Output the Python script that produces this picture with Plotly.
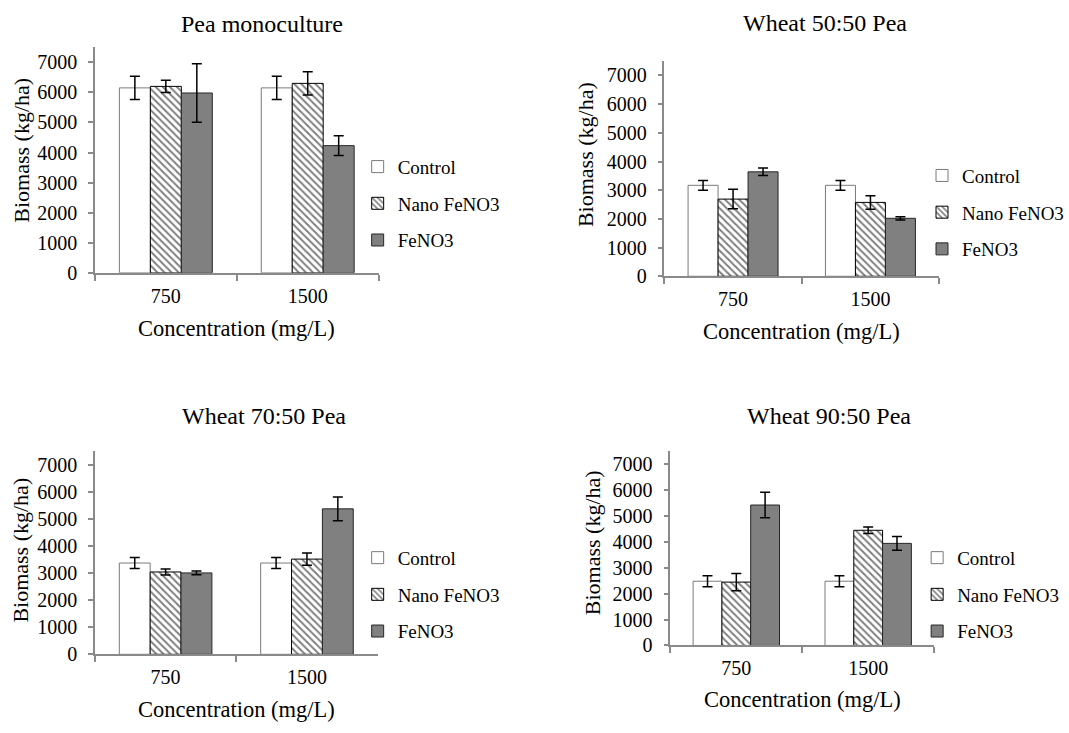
import plotly.graph_objects as go

W, H = 1069, 733

categories = ["750", "1500"]
series_names = ["Control", "Nano FeNO3", "FeNO3"]
panel_titles = ["Pea monoculture", "Wheat 50:50 Pea", "Wheat 70:50 Pea", "Wheat 90:50 Pea"]
y_ticks = [0, 1000, 2000, 3000, 4000, 5000, 6000, 7000]
x_title = "Concentration (mg/L)"
y_title = "Biomass (kg/ha)"

# Pea monoculture
pm_control = [6150, 6150]
pm_control_err = [390, 390]
pm_nano = [6200, 6300]
pm_nano_err = [200, 390]
pm_fe = [5980, 4230]
pm_fe_err = [970, 330]

# Wheat 50:50 Pea
w50_control = [3170, 3170]
w50_control_err = [170, 170]
w50_nano = [2690, 2575]
w50_nano_err = [340, 235]
w50_fe = [3640, 2020]
w50_fe_err = [130, 55]

# Wheat 70:50 Pea
w70_control = [3370, 3370]
w70_control_err = [200, 200]
w70_nano = [3040, 3515]
w70_nano_err = [110, 225]
w70_fe = [3005, 5370]
w70_fe_err = [70, 440]

# Wheat 90:50 Pea
w90_control = [2480, 2480]
w90_control_err = [215, 215]
w90_nano = [2445, 4445]
w90_nano_err = [335, 127]
w90_fe = [5420, 3940]
w90_fe_err = [490, 265]

panels = [
    ([pm_control, pm_nano, pm_fe], [pm_control_err, pm_nano_err, pm_fe_err]),
    ([w50_control, w50_nano, w50_fe], [w50_control_err, w50_nano_err, w50_fe_err]),
    ([w70_control, w70_nano, w70_fe], [w70_control_err, w70_nano_err, w70_fe_err]),
    ([w90_control, w90_nano, w90_fe], [w90_control_err, w90_nano_err, w90_fe_err]),
]

def px(x):
    return x / W

def py(y):
    return 1 - y / H

# layout geometry in pixels: (x0, x1, y_zero, y_top)
geom = [
    (95, 379, 277, 48),
    (665, 940, 280.5, 62),
    (95, 378, 664.3, 458),
    (671, 935, 655.3, 458),
]
title_pos = [(262, 24), (826, 23), (264, 422), (830, 422)]
ytitle_pos = [(22, 152), (586, 157), (21, 558), (593, 551)]
xtitle_pos = [(237, 334), (802, 337), (237, 720), (803, 710)]
legend_pos = [(358, 150), (923, 159), (358, 547), (918, 547)]

FONT = "Liberation Serif"
AXIS_COLOR = "#8a8a8a"

styles = [
    dict(color="white", line=dict(color="#7a7a7a", width=1)),
    dict(color="white", line=dict(color="black", width=1),
         pattern=dict(shape="\\", fgcolor="black", bgcolor="white", size=5, solidity=0.4)),
    dict(color="#808080", line=dict(color="#262626", width=1)),
]

fig = go.Figure()
annotations = []
for i, (vals, errs) in enumerate(panels):
    n = i + 1
    xa = "x" if n == 1 else f"x{n}"
    ya = "y" if n == 1 else f"y{n}"
    lg = "legend" if n == 1 else f"legend{n}"
    for j, name in enumerate(series_names):
        fig.add_trace(go.Bar(
            x=categories, y=vals[j], name=name,
            xaxis=xa, yaxis=ya, legend=lg, legendgroup=f"p{n}s{j}",
            marker=styles[j],
            error_y=dict(type="data", array=errs[j], visible=True,
                         color="black", thickness=1.5, width=5),
        ))
    x0, x1, yz, yt = geom[i]
    xkey = "xaxis" if n == 1 else f"xaxis{n}"
    ykey = "yaxis" if n == 1 else f"yaxis{n}"
    fig.update_layout(**{
        xkey: dict(domain=[px(x0), px(x1)], anchor=ya, type="category",
                   showline=True, linecolor=AXIS_COLOR, linewidth=1.5,
                   ticks="outside", tickson="boundaries", ticklen=6,
                   tickcolor=AXIS_COLOR, tickwidth=1.5, ticklabelstandoff=4,
                   showgrid=False, zeroline=False,
                   tickfont=dict(family=FONT, size=20, color="black")),
        ykey: dict(domain=[py(yz), py(yt)], anchor=xa, range=[0, 7500],
                   tickvals=y_ticks, ticktext=[str(v) for v in y_ticks],
                   showline=True, linecolor=AXIS_COLOR, linewidth=1.5,
                   ticks="outside", ticklen=5, tickcolor=AXIS_COLOR, tickwidth=1.5,
                   ticklabelstandoff=7,
                   showgrid=False, zeroline=False,
                   tickfont=dict(family=FONT, size=20, color="black")),
        lg: dict(x=px(legend_pos[i][0]), y=py(legend_pos[i][1]), xanchor="left",
                 yanchor="top", bgcolor="rgba(0,0,0,0)", tracegroupgap=9,
                 traceorder="grouped",
                 font=dict(family=FONT, size=19, color="black")),
    })
    tx, ty = title_pos[i]
    annotations.append(dict(text=panel_titles[i], x=px(tx), y=py(ty), xref="paper", yref="paper",
                            showarrow=False, xanchor="center", yanchor="middle",
                            font=dict(family=FONT, size=24, color="black")))
    ax_, ay_ = ytitle_pos[i]
    annotations.append(dict(text=y_title, x=px(ax_), y=py(ay_), xref="paper", yref="paper",
                            showarrow=False, xanchor="center", yanchor="middle", textangle=-90,
                            font=dict(family=FONT, size=22, color="black")))
    bx, by = xtitle_pos[i]
    annotations.append(dict(text=x_title, x=px(bx), y=py(by), xref="paper", yref="paper",
                            showarrow=False, xanchor="center", yanchor="middle",
                            font=dict(family=FONT, size=22.5, color="black")))

fig.update_layout(
    width=W, height=H, margin=dict(l=0, r=0, t=0, b=0),
    paper_bgcolor="white", plot_bgcolor="white",
    barmode="group", bargap=0.345, bargroupgap=0,
    annotations=annotations,
    showlegend=True,
)

fig.write_html("out.html")
